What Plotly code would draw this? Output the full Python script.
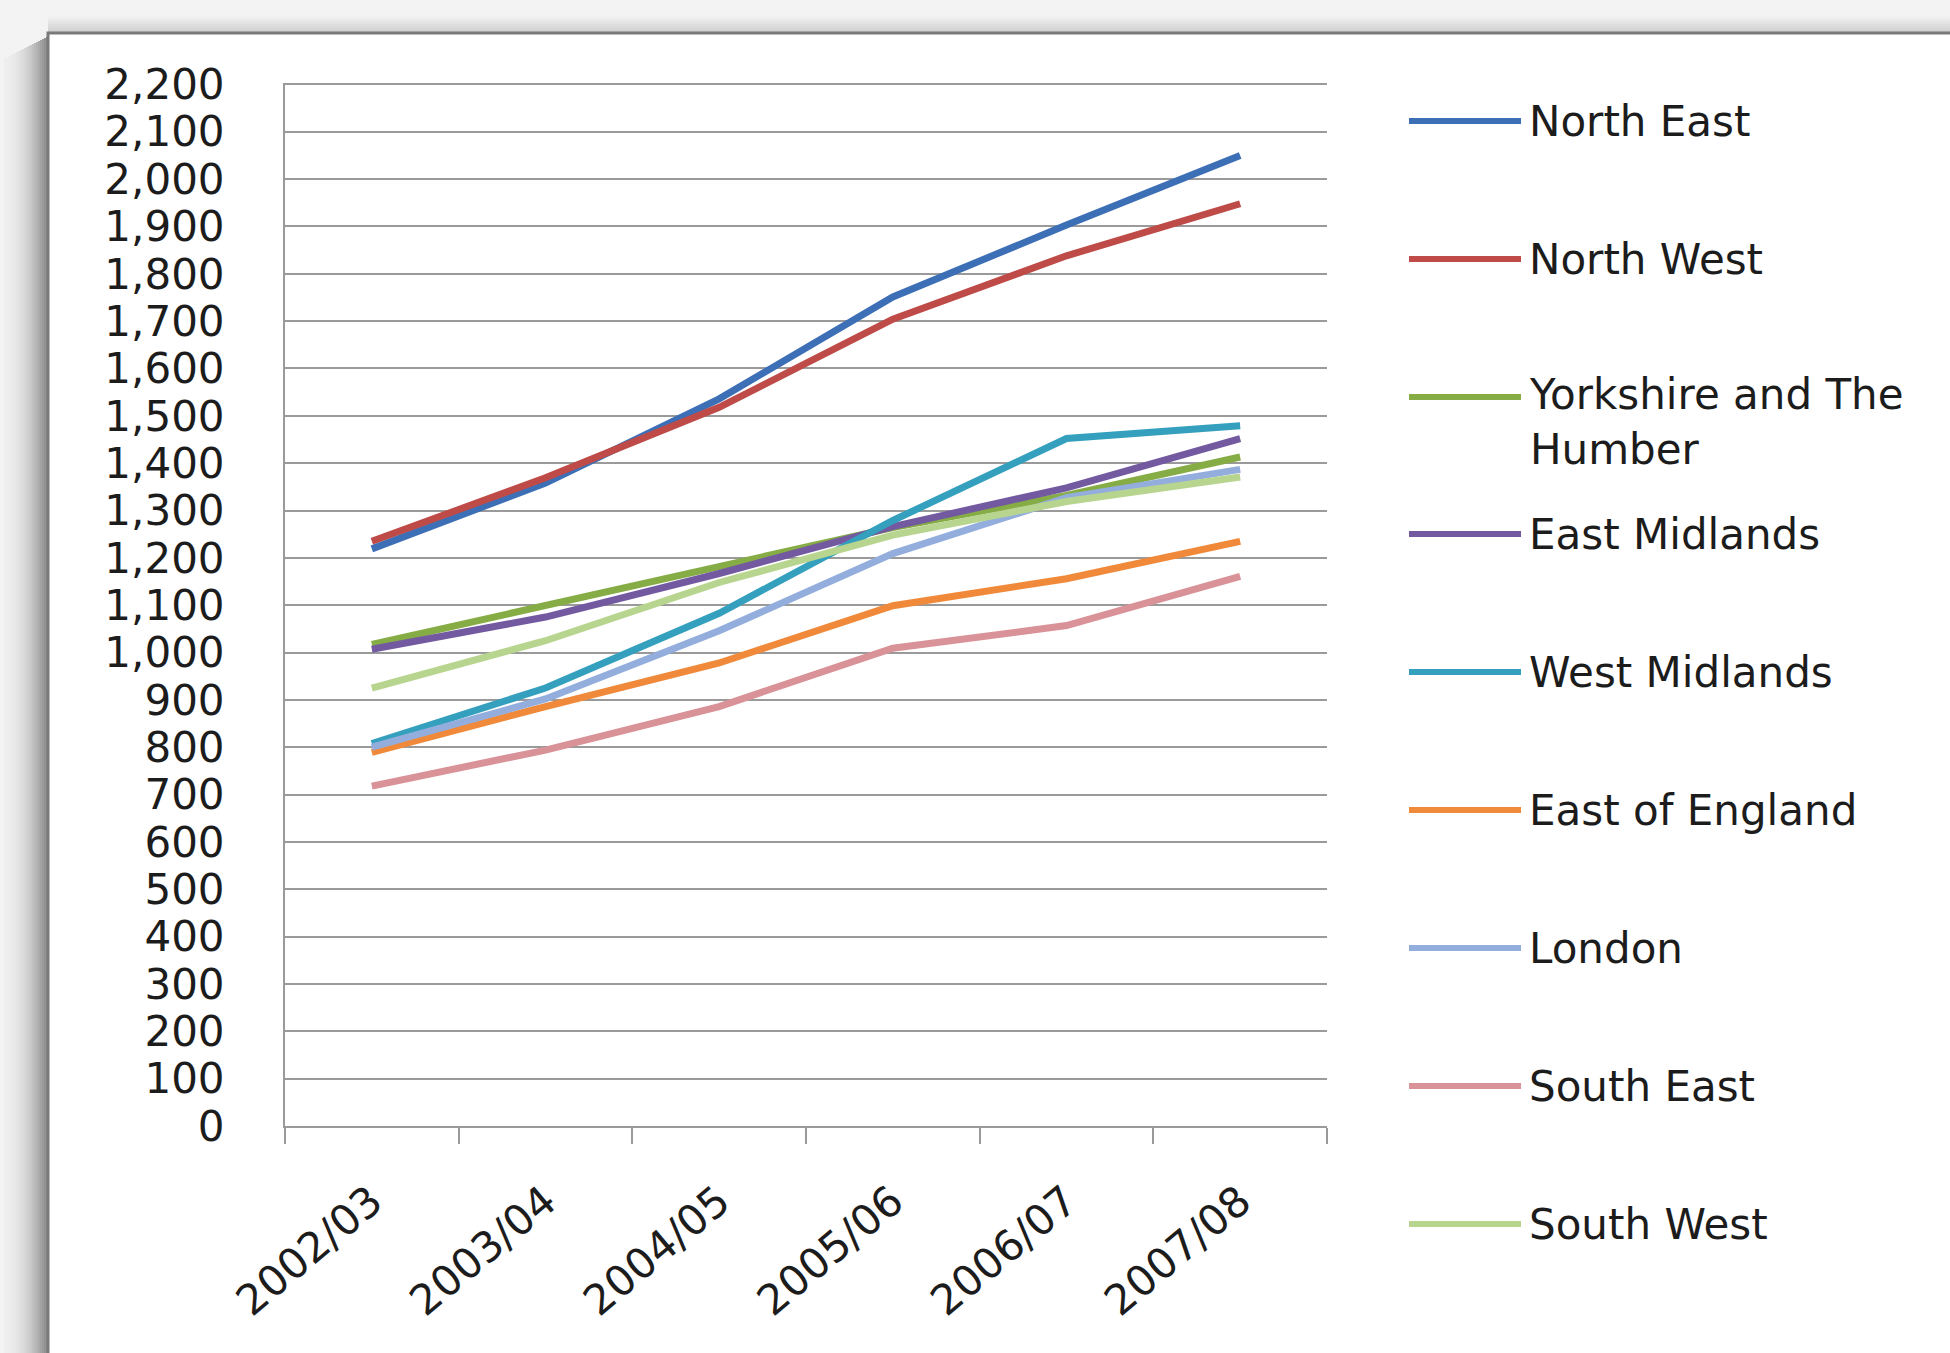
import plotly.graph_objects as go

# ---------------- data ----------------
years = ["2002/03", "2003/04", "2004/05", "2005/06", "2006/07", "2007/08"]
regions = ["North East", "North West", "Yorkshire and The Humber", "East Midlands",
           "West Midlands", "East of England", "London", "South East", "South West"]
north_east = [1219, 1358, 1536, 1751, 1903, 2050]
north_west = [1235, 1369, 1518, 1704, 1838, 1948]
yorkshire = [1017, 1099, 1183, 1264, 1332, 1413]
east_midlands = [1007, 1075, 1167, 1266, 1348, 1452]
west_midlands = [808, 925, 1083, 1279, 1452, 1479]
east_of_england = [789, 886, 978, 1099, 1156, 1235]
london = [800, 902, 1046, 1209, 1327, 1387]
south_east = [718, 794, 886, 1009, 1057, 1161]
south_west = [925, 1025, 1148, 1248, 1319, 1371]
series = [north_east, north_west, yorkshire, east_midlands, west_midlands,
          east_of_england, london, south_east, south_west]
legend_labels = ["North East", "North West", "Yorkshire and The<br>Humber", "East Midlands",
                 "West Midlands", "East of England", "London", "South East", "South West"]
colors = ["#3D6FB6", "#BE4B48", "#86AC46", "#7259A0", "#35A0BD",
          "#F08A3A", "#93AEDD", "#D99297", "#B8D58F"]

# ---------------- geometry ----------------
W, H = 1950, 1353
L, R, T, B = 285, 623, 83, 227
PW, PH = W - L - R, H - T - B
FONT = "DejaVu Sans"
TXT = "#1c1c1c"
GRID = "#9a9a9a"


def px(xp):
    return (xp - L) / PW


def py(yp):
    return (H - B - yp) / PH


fig = go.Figure()
for name, vals, col in zip(regions, series, colors):
    fig.add_trace(go.Scatter(x=years, y=vals, name=name, mode="lines",
                             line=dict(color=col, width=7), showlegend=False))

shapes = []
# shadow strips left of the chart box
n = 22
for i in range(n):
    a = 0.02 + 0.42 * (i / (n - 1)) ** 2
    shapes.append(dict(type="rect", xref="paper", yref="paper",
                       x0=px(4 + 2 * i), x1=px(6 + 2 * i), y0=py(H + 5), y1=py(36 + (n - i)),
                       fillcolor=f"rgba(0,0,0,{a:.3f})", line=dict(width=0), layer="below"))
for i in range(8):
    a = 0.01 + 0.018 * i
    shapes.append(dict(type="rect", xref="paper", yref="paper",
                       x0=px(48), x1=px(W + 5), y0=py(16 + 2 * i), y1=py(18 + 2 * i),
                       fillcolor=f"rgba(0,0,0,{a:.3f})", line=dict(width=0), layer="below"))
# chart box
shapes.append(dict(type="rect", xref="paper", yref="paper",
                   x0=px(48), x1=px(W + 20), y0=py(H + 20), y1=py(33),
                   fillcolor="white", line=dict(color="#7a7a7a", width=3), layer="below"))

annotations = []
legend_y = [121, 259, 397, 534, 672, 810, 948, 1086, 1224]
for lab, col, ly in zip(legend_labels, colors, legend_y):
    shapes.append(dict(type="line", xref="paper", yref="paper",
                       x0=px(1409), x1=px(1521), y0=py(ly), y1=py(ly),
                       line=dict(color=col, width=6), layer="above"))
    if "<br>" in lab:
        annotations.append(dict(xref="paper", yref="paper", x=px(1527), y=py(ly - 29),
                                xanchor="left", yanchor="top", align="left", showarrow=False,
                                text=lab, font=dict(family=FONT, size=42, color=TXT)))
    else:
        annotations.append(dict(xref="paper", yref="paper", x=px(1527), y=py(ly),
                                xanchor="left", yanchor="middle", showarrow=False,
                                text=lab, font=dict(family=FONT, size=42, color=TXT)))

fig.update_layout(
    width=W, height=H,
    margin=dict(l=L, r=R, t=T, b=B, autoexpand=False),
    paper_bgcolor="#F3F3F3", plot_bgcolor="white",
    font=dict(family=FONT, size=42, color=TXT),
    shapes=shapes, annotations=annotations,
    showlegend=False,
)
fig.update_xaxes(type="category", categoryorder="array", categoryarray=years,
                 range=[-0.5, len(years) - 0.5],
                 tickson="boundaries", ticks="outside", ticklen=16, tickwidth=2, tickcolor=GRID,
                 showline=True, linecolor=GRID, linewidth=2, showgrid=False,
                 tickangle=-40, ticklabelstandoff=32,
                 tickfont=dict(family=FONT, size=42, color=TXT))
fig.update_yaxes(range=[0, 2203], tickmode="array", tickvals=list(range(0, 2201, 100)),
                 tickformat=",d", showgrid=True, gridcolor=GRID, gridwidth=2,
                 showline=True, linecolor=GRID, linewidth=2, ticks="", zeroline=False,
                 ticklabelstandoff=50,
                 tickfont=dict(family=FONT, size=42, color=TXT))

fig.write_html("out.html")
